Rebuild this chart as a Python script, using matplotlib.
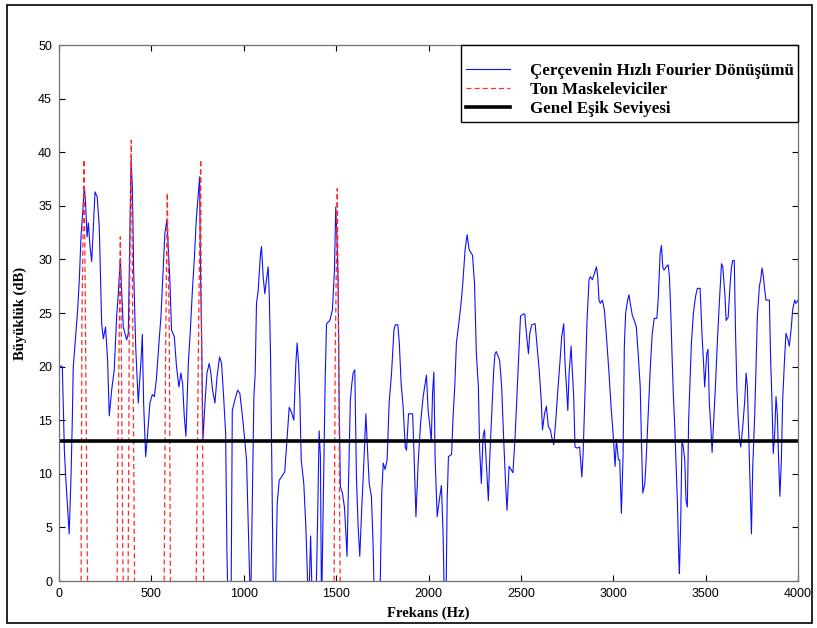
import matplotlib
matplotlib.use("Agg")
import matplotlib.pyplot as plt
from matplotlib.patches import Rectangle

# Spectrum of the frame (Hz, dB)
FREQ = [0, 18, 29, 35, 55, 65, 72, 77, 90, 101, 110, 119, 128, 137, 144, 152, 159, 168, 177, 186,
        195, 207, 218, 231, 240, 252, 263, 272, 285, 299, 312, 321, 332, 339, 348, 366, 375, 382,
        390, 397, 404, 415, 429, 444, 451, 458, 469, 480, 492, 505, 516, 527, 541, 552, 564, 573,
        584, 591, 600, 609, 624, 636, 649, 660, 669, 678, 687, 700, 711, 722, 733, 743, 754, 761,
        766, 772, 779, 790, 801, 813, 822, 831, 844, 855, 869, 880, 891, 902, 909, 916, 931, 938,
        952, 967, 979, 997, 1015, 1030, 1037, 1048, 1055, 1062, 1069, 1078, 1091, 1096, 1105,
        1114, 1123, 1132, 1138, 1145, 1152, 1159, 1170, 1181, 1192, 1204, 1222, 1235, 1246, 1259,
        1271, 1282, 1289, 1297, 1304, 1311, 1325, 1336, 1351, 1362, 1372, 1390, 1401, 1408, 1415,
        1421, 1430, 1441, 1448, 1466, 1480, 1491, 1498, 1505, 1511, 1516, 1523, 1534, 1545, 1552,
        1559, 1567, 1577, 1585, 1592, 1601, 1610, 1619, 1628, 1639, 1650, 1661, 1668, 1679, 1691,
        1700, 1708, 1736, 1747, 1755, 1765, 1776, 1787, 1800, 1813, 1820, 1834, 1842, 1852, 1863,
        1874, 1881, 1892, 1899, 1914, 1921, 1932, 1944, 1957, 1971, 1982, 1989, 1998, 2007, 2015,
        2022, 2029, 2036, 2047, 2058, 2070, 2079, 2087, 2094, 2101, 2108, 2125, 2133, 2142, 2151,
        2166, 2178, 2187, 2198, 2209, 2220, 2238, 2249, 2259, 2270, 2277, 2286, 2295, 2303, 2313,
        2324, 2331, 2342, 2353, 2360, 2367, 2385, 2396, 2407, 2418, 2425, 2436, 2447, 2457, 2468,
        2479, 2490, 2498, 2512, 2521, 2530, 2541, 2548, 2559, 2577, 2588, 2599, 2610, 2617, 2628,
        2638, 2649, 2660, 2667, 2678, 2689, 2700, 2711, 2721, 2732, 2739, 2747, 2754, 2761, 2772,
        2779, 2786, 2793, 2804, 2818, 2830, 2837, 2848, 2858, 2869, 2876, 2887, 2898, 2909, 2916,
        2923, 2930, 2941, 2952, 2962, 2977, 2988, 2999, 3010, 3017, 3028, 3035, 3044, 3053, 3060,
        3067, 3078, 3085, 3092, 3103, 3114, 3125, 3135, 3146, 3153, 3160, 3171, 3178, 3189, 3200,
        3211, 3222, 3236, 3243, 3254, 3261, 3268, 3275, 3286, 3297, 3304, 3311, 3318, 3325, 3333,
        3340, 3347, 3355, 3358, 3365, 3372, 3379, 3387, 3394, 3401, 3408, 3416, 3423, 3434, 3445,
        3455, 3470, 3481, 3488, 3495, 3506, 3513, 3520, 3528, 3535, 3542, 3553, 3564, 3575, 3586,
        3593, 3604, 3611, 3622, 3633, 3640, 3647, 3655, 3662, 3669, 3676, 3683, 3690, 3701, 3712,
        3719, 3726, 3733, 3741, 3748, 3755, 3766, 3773, 3780, 3791, 3798, 3805, 3813, 3820, 3827,
        3845, 3852, 3859, 3866, 3874, 3881, 3888, 3895, 3902, 3910, 3917, 3928, 3935, 3946, 3953,
        3964, 3971, 3982, 3989, 4000]
MAG = [20.1, 20.0, 12.2, 10.1, 4.4, 9.7, 15.0, 19.9, 22.8, 25.3, 28.1, 32.1, 34.3, 36.8, 35.2,
       32.1, 33.4, 31.2, 29.8, 33.0, 36.3, 35.8, 33.0, 24.0, 22.6, 23.7, 20.6, 15.4, 17.8, 19.7,
       24.7, 26.8, 30.1, 27.1, 23.7, 22.5, 23.1, 30.9, 39.3, 36.8, 29.0, 21.9, 16.6, 20.6, 23.0,
       16.6, 11.6, 13.8, 16.6, 17.4, 17.2, 18.8, 22.2, 24.7, 29.0, 32.4, 33.7, 31.2, 28.1, 23.4,
       22.8, 20.0, 18.1, 19.4, 18.4, 15.4, 13.5, 20.3, 23.4, 27.1, 30.2, 33.7, 36.2, 37.7, 29.0,
       22.5, 13.1, 16.6, 19.4, 20.3, 19.4, 17.8, 16.6, 19.0, 20.9, 20.3, 17.2, 13.8, 2.6, -3.0,
       -3.0, 15.9, 16.9, 17.8, 17.5, 14.7, 11.3, 1.6, -3.0, 9.7, 17.2, 19.4, 25.9, 27.1, 30.6,
       31.2, 28.4, 26.8, 28.1, 29.3, 26.8, 21.0, 11.0, 0.4, -3.0, 7.2, 9.4, 9.7, 10.2, 13.4, 16.2,
       15.7, 15.0, 20.3, 22.2, 20.3, 16.9, 11.3, 9.1, 5.1, -3.0, 4.2, -3.0, -3.0, 6.9, 14.0, 11.6,
       -3.0, 6.9, 19.0, 24.0, 24.3, 25.3, 29.0, 34.9, 31.8, 27.8, 17.2, 8.8, 8.2, 6.9, 4.7, 2.3,
       9.1, 16.9, 18.4, 19.4, 19.7, 9.7, 5.1, 2.3, 6.9, 11.0, 15.6, 12.9, 9.1, 7.9, 3.5, -3.0,
       -3.0, 8.2, 11.0, 10.4, 11.3, 16.6, 19.4, 23.4, 23.9, 23.9, 22.2, 18.4, 16.2, 12.5, 12.2,
       15.6, 15.6, 15.6, 12.2, 6.0, 11.0, 14.7, 17.2, 18.4, 19.2, 15.9, 14.5, 13.0, 17.5, 19.5,
       11.3, 6.0, 7.5, 8.9, 4.4, -3.0, -3.0, 7.5, 11.6, 11.8, 15.3, 18.1, 22.2, 24.3, 26.2, 28.1,
       30.9, 32.3, 30.9, 30.4, 27.8, 21.2, 18.1, 12.2, 9.1, 13.4, 14.1, 11.0, 7.5, 11.3, 15.6,
       19.7, 21.2, 21.4, 20.6, 18.1, 13.2, 8.8, 6.6, 10.7, 10.4, 10.1, 13.2, 17.5, 21.9, 24.7,
       24.9, 24.9, 23.1, 21.2, 23.1, 23.9, 24.0, 21.9, 19.7, 16.9, 14.1, 15.6, 16.3, 14.4, 14.1,
       13.4, 12.7, 15.0, 17.8, 20.3, 22.8, 24.0, 20.3, 18.1, 15.9, 19.4, 21.9, 19.4, 17.2, 12.5,
       12.4, 12.5, 9.7, 11.9, 18.1, 24.3, 28.1, 28.4, 28.1, 28.7, 29.3, 28.4, 26.2, 25.9, 26.2,
       25.3, 23.1, 19.4, 16.3, 13.8, 10.7, 13.2, 11.3, 11.3, 6.3, 11.6, 21.9, 25.0, 26.2, 26.7,
       25.9, 24.8, 24.3, 23.7, 21.2, 18.1, 12.8, 8.2, 9.1, 11.3, 15.6, 19.7, 23.1, 24.5, 24.5,
       26.2, 30.6, 31.3, 29.3, 29.0, 29.3, 29.5, 28.4, 25.3, 21.2, 17.5, 14.4, 11.0, 7.5, 1.9,
       0.7, 5.3, 13.2, 12.5, 11.3, 7.5, 6.9, 15.0, 18.7, 22.2, 25.0, 26.5, 27.3, 27.3, 22.8, 20.6,
       18.1, 21.2, 21.6, 16.6, 14.4, 12.0, 14.4, 18.1, 22.5, 26.2, 29.6, 29.3, 26.8, 24.3, 24.6,
       27.8, 29.3, 29.9, 29.9, 23.1, 18.1, 15.3, 13.4, 12.5, 14.4, 16.9, 19.4, 18.1, 13.8, 8.8,
       4.4, 10.7, 15.6, 20.0, 24.7, 27.5, 28.1, 29.2, 28.4, 27.1, 26.2, 26.2, 20.6, 16.9, 11.9,
       13.8, 17.2, 15.6, 11.3, 7.9, 11.3, 16.9, 21.0, 23.1, 22.5, 21.9, 23.7, 25.3, 26.2, 25.9,
       26.2]

# Tone maskers (each a narrow spike), Hz and dB
MASK_F = [[119, 124, 135, 141, 153, 157],
          [314, 317, 332, 337, 345, 350],
          [373, 377, 380, 391, 399, 406, 410],
          [568, 577, 586, 597, 604],
          [741, 745, 756, 767, 770, 781, 784],
          [1488, 1495, 1506, 1513, 1520, 1524]]
MASK_DB = [[-3, 24.3, 39.3, 28.7, 2.2, -3],
           [-3, 9.7, 32.1, 23.4, 3.0, -3],
           [-3, 9.4, 23.2, 41.1, 25.1, 7.9, -3],
           [-3, 21.3, 36.2, 23.1, -3],
           [-3, 4.9, 23.9, 39.3, 26.5, 5.6, -3],
           [-3, 20.6, 36.6, 23.1, 3.5, -3]]

THRESHOLD = 13.1
XTICKS = [0, 500, 1000, 1500, 2000, 2500, 3000, 3500, 4000]
YTICKS = [0, 5, 10, 15, 20, 25, 30, 35, 40, 45, 50]
LABELS = ["Çerçevenin Hızlı Fourier Dönüşümü", "Ton Maskeleviciler", "Genel Eşik Seviyesi"]

SERIF = "Liberation Serif"
SANS = "Liberation Sans"

fig = plt.figure(figsize=(8.17, 6.28), dpi=100)
fig.patch.set_facecolor("white")
ax = fig.add_axes([59 / 817, 47 / 628, 739 / 817, 536 / 628])

ax.plot(FREQ, MAG, color="#1010ff", lw=0.8, label=LABELS[0])
for i, (mf, md) in enumerate(zip(MASK_F, MASK_DB)):
    ax.plot(mf, md, color="#ff2a2a", ls="--", lw=0.9, dashes=(4, 2.5),
            label=LABELS[1] if i == 0 else None)
ax.plot([0, 4000], [THRESHOLD, THRESHOLD], color="black", lw=2.6, label=LABELS[2])

ax.set_xlim(0, 4000)
ax.set_ylim(0, 50)
ax.set_xticks(XTICKS)
ax.set_yticks(YTICKS)
ax.tick_params(direction="in", top=True, right=True, length=4, width=0.8,
               labelsize=9, pad=5)
for lab in ax.get_xticklabels() + ax.get_yticklabels():
    lab.set_family(SANS)
for sp in ax.spines.values():
    sp.set_color("#707070")
    sp.set_linewidth(0.9)

ax.set_xlabel("Frekans (Hz)", family=SERIF, fontweight="bold", fontsize=10.5, labelpad=5)
ax.set_ylabel("Büyüklük (dB)", family=SERIF, fontweight="bold", fontsize=10.5, labelpad=8)

leg = ax.legend(loc="upper right", borderaxespad=0, fancybox=False, framealpha=1,
                edgecolor="black", handlelength=2.6, handletextpad=1.2, labelspacing=0.2,
                borderpad=0.25, title=" ", title_fontsize=8,
                prop={"family": SERIF, "weight": "bold", "size": 12.2})
leg.get_frame().set_linewidth(1.0)

# outer frame around the whole picture
fig.patches.append(Rectangle((7 / 817, 5 / 628), 805 / 817, 618 / 628, transform=fig.transFigure,
                             fill=False, ec="black", lw=1.2))

fig.savefig("out.png", dpi=100)
